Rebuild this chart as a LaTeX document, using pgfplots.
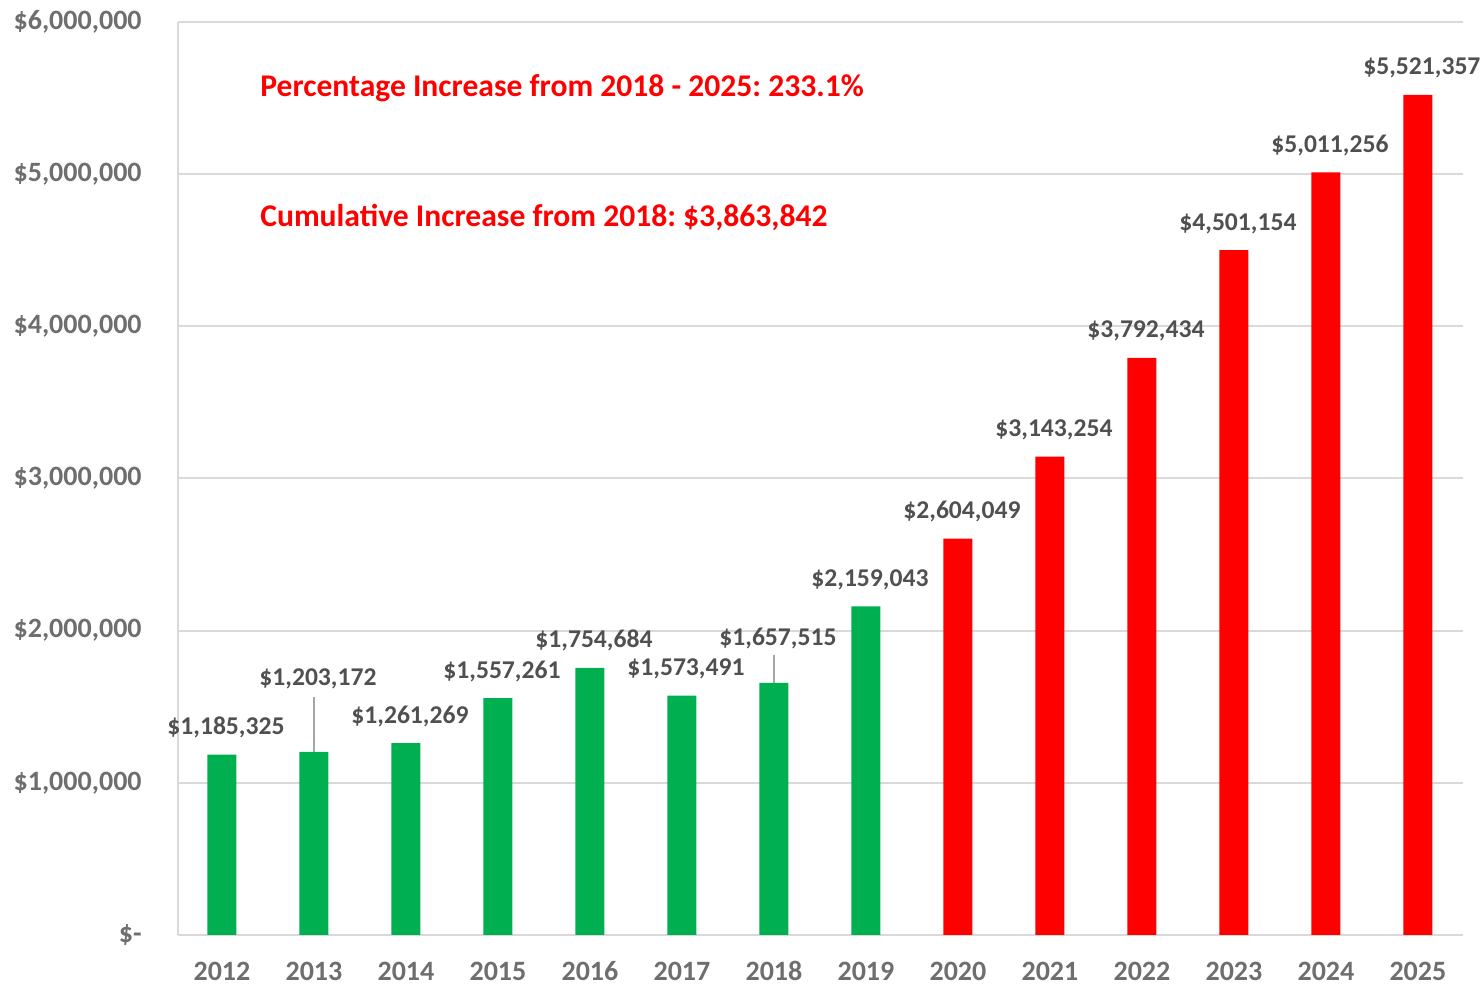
\documentclass[border=0pt]{standalone}
\usepackage{pgfplots}
\pgfplotsset{compat=1.18}
\usepackage{pgfplotstable}
\usepackage{fontspec}
\setmainfont{Carlito}
\frenchspacing
\definecolor{bargreen}{HTML}{00B050}
\definecolor{barred}{HTML}{FF0000}
\definecolor{gridgray}{HTML}{D9D9D9}
\definecolor{tickgray}{HTML}{6E6E6E}
\definecolor{labgray}{HTML}{505050}
\definecolor{leadgray}{HTML}{A6A6A6}

\pgfplotstableread{
x y lab dy
0 1185325 1,185,325 10
1 1203172 1,203,172 33
2 1261269 1,261,269 10
3 1557261 1,557,261 10
4 1754684 1,754,684 10
5 1573491 1,573,491 10
6 1657515 1,657,515 18.5
7 2159043 2,159,043 10
}\greendata

\pgfplotstableread{
x y lab dy
8 2604049 2,604,049 10
9 3143254 3,143,254 10
10 3792434 3,792,434 10
11 4501154 4,501,154 10
12 5011256 5,011,256 10
13 5521357 5,521,357 10
}\reddata

\begin{document}
\begin{tikzpicture}
\begin{axis}[
  scale only axis, width=642.5pt, height=456.5pt,
  xmin=-0.478, xmax=13.49, ymin=0, ymax=6000000,
  clip=false,
  axis lines*=left,
  axis line style={draw=gridgray, line width=1pt},
  ymajorgrids, grid style={draw=gridgray, line width=1pt},
  major tick length=0pt,
  ytick={0,1000000,2000000,3000000,4000000,5000000,6000000},
  yticklabels={{\$-},{\$1,000,000},{\$2,000,000},{\$3,000,000},{\$4,000,000},{\$5,000,000},{\$6,000,000}},
  xtick={0,1,2,3,4,5,6,7,8,9,10,11,12,13},
  xticklabels={2012,2013,2014,2015,2016,2017,2018,2019,2020,2021,2022,2023,2024,2025},
  tick label style={font=\fontsize{14}{16}\selectfont\bfseries, text=tickgray},
  yticklabel style={anchor=east, inner sep=0pt, xshift=-18pt},
  xticklabel style={anchor=base, inner sep=0pt, text depth=0pt, yshift=-23pt},
  scaled y ticks=false,
  every node near coord/.append style={anchor=base, inner sep=0pt, xshift=2pt,
     font=\fontsize{12.8}{14}\selectfont\bfseries, text=labgray},
]
\addplot[ybar, bar width=14.5pt, bar shift=0pt, fill=bargreen, draw=none,
  point meta=explicit symbolic, nodes near coords={\$\pgfplotspointmeta},
  visualization depends on={\thisrow{dy} \as \dy},
  every node near coord/.append style={yshift=\dy}]
  table[x=x, y=y, meta=lab] {\greendata};
\addplot[ybar, bar width=14.5pt, bar shift=0pt, fill=barred, draw=none,
  point meta=explicit symbolic, nodes near coords={\$\pgfplotspointmeta},
  visualization depends on={\thisrow{dy} \as \dy},
  every node near coord/.append style={yshift=\dy}]
  table[x=x, y=y, meta=lab] {\reddata};
\addplot[draw=leadgray, line width=0.7pt, forget plot] coordinates {(1,1203172) (1,1564000)};
\addplot[draw=leadgray, line width=0.7pt, forget plot] coordinates {(6,1657515) (6,1840000)};
\node[anchor=west, inner sep=0pt, text=barred, font=\fontsize{15.8}{18}\selectfont\bfseries]
  at (axis cs:0.413,5566000) {Percentage Increase from 2018 - 2025: 233.1\%};
\node[anchor=west, inner sep=0pt, text=barred, font=\fontsize{15.8}{18}\selectfont\bfseries]
  at (axis cs:0.413,4712000) {Cumulative Increase from 2018: \$3,863,842};
\end{axis}
\pgfresetboundingbox
\path[use as bounding box] (-89pt,-26.5pt) rectangle (652.5pt,467.5pt);
\end{tikzpicture}
\end{document}
